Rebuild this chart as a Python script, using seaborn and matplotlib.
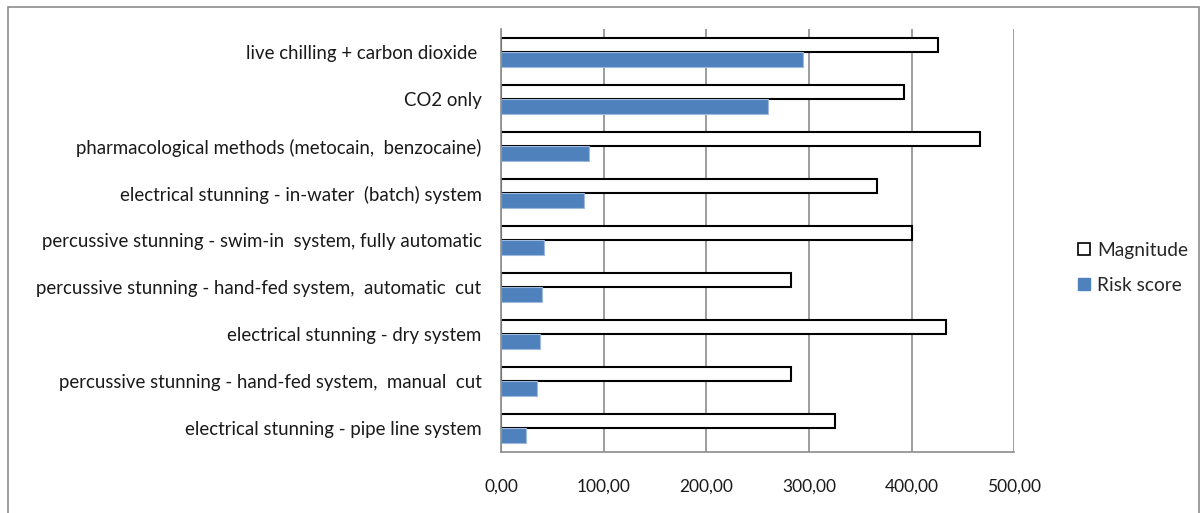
"""Stunning methods: magnitude vs risk score, horizontal grouped bars."""

import matplotlib

matplotlib.use("Agg")

import matplotlib.pyplot as plt
import pandas as pd
import seaborn as sns
from matplotlib.patches import Rectangle
from matplotlib.ticker import FixedLocator


METHODS = [
    "live chilling + carbon dioxide ",
    "CO2 only",
    "pharmacological methods (metocain,  benzocaine)",
    "electrical stunning - in-water  (batch) system",
    "percussive stunning - swim-in  system, fully automatic",
    "percussive stunning - hand-fed system,  automatic  cut",
    "electrical stunning - dry system",
    "percussive stunning - hand-fed system,  manual  cut",
    "electrical stunning - pipe line system",
]
MAGNITUDE = [425.6, 392.7, 467.0, 366.6, 400.0, 283.0, 433.5, 283.0, 325.5]
RISK_SCORE = [294.0, 260.6, 85.4, 80.9, 41.4, 39.8, 38.2, 35.2, 24.2]
SERIES = ["Magnitude", "Risk score"]
X_TICKS = [0, 100, 200, 300, 400, 500]
X_TICK_LABELS = ["0,00", "100,00", "200,00", "300,00", "400,00", "500,00"]

BLUE = "#4F81BD"
GRID_GRAY = "#8C8C8C"


def build_frame():
    rows = []
    for method, mag, risk in zip(METHODS, MAGNITUDE, RISK_SCORE):
        rows.append({"method": method, "series": SERIES[0], "value": mag})
        rows.append({"method": method, "series": SERIES[1], "value": risk})
    return pd.DataFrame(rows)


def main():
    sns.set_style("white")
    plt.rcParams["font.family"] = ["Lato", "DejaVu Sans"]

    df = build_frame()
    fig = plt.figure(figsize=(12.03, 5.13), dpi=100)
    ax = fig.add_axes([0.4165, 0.119, 0.4265, 0.8245])

    sns.barplot(
        data=df,
        x="value",
        y="method",
        hue="series",
        order=METHODS,
        hue_order=SERIES,
        palette={SERIES[0]: "white", SERIES[1]: BLUE},
        saturation=1,
        orient="h",
        width=0.6,
        gap=0,
        ax=ax,
        legend=False,
    )

    edge_styles = [("black", 1.5), ("#9DB9DC", 0.8)]
    for container, (edge, lw) in zip(ax.containers, edge_styles):
        for bar in container:
            bar.set_edgecolor(edge)
            bar.set_linewidth(lw)

    ax.set_xlim(0, 500)
    ax.set_ylim(len(METHODS) - 0.5, -0.5)
    ax.xaxis.set_major_locator(FixedLocator(X_TICKS))
    ax.set_xticklabels(X_TICK_LABELS, fontsize=12.5, color="#1a1a1a")
    ax.tick_params(axis="x", direction="out", length=5, width=1,
                   color=GRID_GRAY, pad=14)
    ax.tick_params(axis="y", which="major", length=0, pad=14,
                   labelsize=13.4, labelcolor="#1a1a1a")
    ax.yaxis.set_minor_locator(
        FixedLocator([i - 0.5 for i in range(len(METHODS) + 1)])
    )
    ax.tick_params(axis="y", which="minor", direction="out", length=5,
                   width=1, color=GRID_GRAY)

    ax.grid(axis="x", color=GRID_GRAY, linewidth=1.2)
    ax.set_axisbelow(True)
    ax.set_xlabel("")
    ax.set_ylabel("")
    for side in ["top", "right"]:
        ax.spines[side].set_visible(False)
    for side in ["left", "bottom"]:
        ax.spines[side].set_color(GRID_GRAY)
        ax.spines[side].set_linewidth(1.2)

    handles = [
        Rectangle((0, 0), 1, 1, facecolor="white", edgecolor="black",
                  linewidth=1.2),
        Rectangle((0, 0), 1, 1, facecolor=BLUE, edgecolor=BLUE),
    ]
    fig.legend(
        handles,
        SERIES,
        loc="center left",
        bbox_to_anchor=(0.882, 0.478),
        frameon=False,
        fontsize=13.8,
        handlelength=0.6,
        handleheight=0.6,
        handletextpad=0.4,
        labelspacing=0.95,
    )

    fig.patches.append(
        Rectangle((0.0067, -0.01), 0.99, 0.996, transform=fig.transFigure,
                  fill=False, edgecolor="#8C8C8C", linewidth=1.2)
    )

    fig.savefig("out.png", dpi=100)
    plt.close(fig)


if __name__ == "__main__":
    main()
